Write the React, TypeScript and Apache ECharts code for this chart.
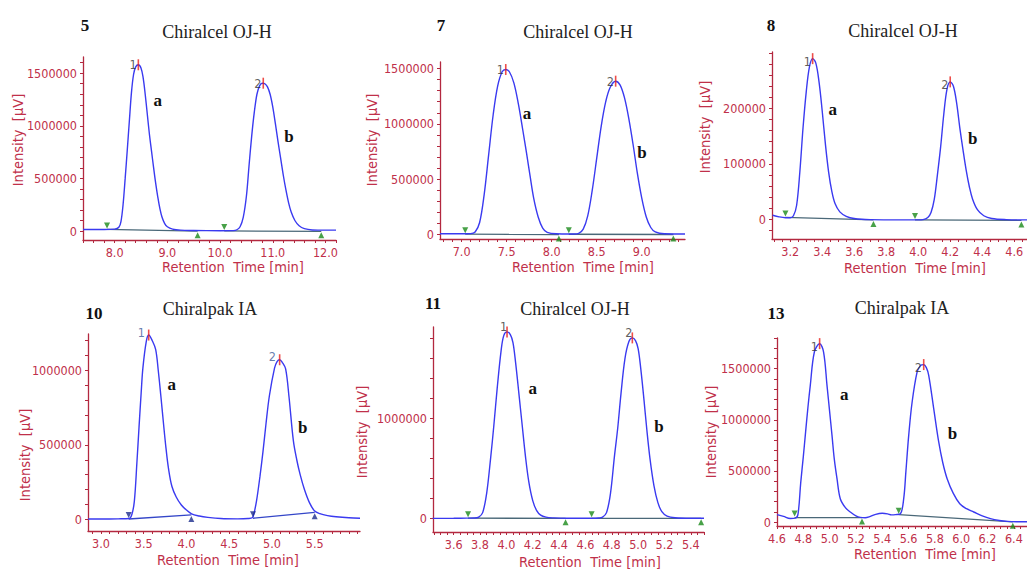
import React, { useEffect, useRef } from "react";
import * as echarts from "echarts";

type Pt = [number, number];

// ---------- Panel 5 (Chiralcel OJ-H) ----------
const trace5: Pt[] = [
  [7.4, 15000], [7.8, 15000], [8.0, 18000], [8.08, 35000], [8.12, 90000], [8.16, 250000], [8.2, 500000],
  [8.24, 770000], [8.28, 1050000], [8.32, 1320000], [8.36, 1490000], [8.4, 1560000], [8.45, 1580000],
  [8.5, 1550000], [8.54, 1460000], [8.58, 1300000], [8.62, 1110000], [8.66, 920000], [8.7, 760000],
  [8.74, 600000], [8.78, 450000], [8.82, 320000], [8.86, 210000], [8.9, 130000], [8.95, 70000],
  [9.0, 40000], [9.1, 18000], [9.25, 8000], [9.5, 5000], [10.0, 3000], [10.25, 4000], [10.32, 12000],
  [10.38, 40000], [10.44, 130000], [10.5, 330000], [10.55, 620000], [10.6, 900000], [10.65, 1130000],
  [10.7, 1300000], [10.75, 1380000], [10.8, 1405000], [10.85, 1400000], [10.9, 1370000], [10.95, 1300000],
  [11.0, 1180000], [11.05, 1020000], [11.1, 850000], [11.15, 690000], [11.2, 530000], [11.25, 390000],
  [11.3, 270000], [11.35, 180000], [11.42, 100000], [11.5, 50000], [11.6, 22000], [11.75, 10000],
  [12.0, 8000], [12.2, 8000],
];
const peaks5: Pt[] = [[8.45, 1580000], [10.82, 1405000]];
const starts5: Pt[] = [[7.856, 15000], [10.08, 1000]];
const ends5: Pt[] = [[9.575, -2000], [11.92, -3000]];
const letters5: [string, number, number][] = [["a", 8.82, 1245000], ["b", 11.31, 903000]];
const xTicks5 = [8, 9, 10, 11, 12];
const yTicks5 = [0, 500000, 1000000, 1500000];

// ---------- Panel 7 (Chiralcel OJ-H) ----------
const trace7: Pt[] = [
  [6.76, 8000], [7.0, 8000], [7.1, 10000], [7.15, 25000], [7.2, 110000], [7.25, 360000], [7.3, 720000],
  [7.35, 1080000], [7.4, 1340000], [7.45, 1470000], [7.49, 1490000], [7.53, 1470000], [7.58, 1370000],
  [7.63, 1180000], [7.68, 940000], [7.72, 740000], [7.76, 530000], [7.8, 330000], [7.85, 160000],
  [7.9, 60000], [7.95, 22000], [8.05, 8000], [8.2, 6000], [8.25, 6000], [8.3, 12000], [8.35, 50000],
  [8.4, 170000], [8.45, 400000], [8.5, 690000], [8.55, 980000], [8.6, 1200000], [8.65, 1330000],
  [8.71, 1385000], [8.76, 1350000], [8.81, 1230000], [8.86, 1030000], [8.91, 780000], [8.95, 560000],
  [9.0, 330000], [9.05, 160000], [9.1, 65000], [9.15, 25000], [9.25, 8000], [9.48, 6000],
];
const peaks7: Pt[] = [[7.49, 1490000], [8.71, 1385000]];
const starts7: Pt[] = [[7.04, 5000], [8.19, 4000]];
const ends7: Pt[] = [[8.08, 2000], [9.35, 2000]];
const letters7: [string, number, number][] = [["a", 7.726, 1097000], ["b", 9.003, 746000]];
const xTicks7 = [7.0, 7.5, 8.0, 8.5, 9.0];
const yTicks7 = [0, 500000, 1000000, 1500000];

// ---------- Panel 8 (Chiralcel OJ-H) ----------
const trace8: Pt[] = [
  [3.09, 7000], [3.13, 4000], [3.17, 2500], [3.2, 2500], [3.22, 6000], [3.24, 25000], [3.26, 85000],
  [3.28, 165000], [3.3, 230000], [3.32, 275000], [3.34, 290000], [3.36, 282000], [3.38, 248000],
  [3.4, 195000], [3.42, 135000], [3.44, 85000], [3.46, 50000], [3.48, 28000], [3.51, 13000],
  [3.55, 5000], [3.6, 1000], [3.7, -1000], [3.9, -1500], [4.0, -1500], [4.03, -1000], [4.06, 3000],
  [4.08, 12000], [4.1, 35000], [4.12, 80000], [4.14, 130000], [4.16, 190000], [4.18, 235000],
  [4.2, 248000], [4.22, 240000], [4.24, 210000], [4.26, 165000], [4.28, 125000], [4.3, 88000],
  [4.32, 58000], [4.34, 36000], [4.37, 17000], [4.41, 6000], [4.46, 1000], [4.55, -1000], [4.68, -1500],
];
const peaks8: Pt[] = [[3.34, 290000], [4.2, 248000]];
const starts8: Pt[] = [[3.17, 3000], [3.98, -1500]];
const ends8: Pt[] = [[3.72, -1500], [4.645, -2500]];
const letters8: [string, number, number][] = [["a", 3.466, 198800], ["b", 4.341, 146500]];
const xTicks8 = [3.2, 3.4, 3.6, 3.8, 4.0, 4.2, 4.4, 4.6];
const yTicks8 = [0, 100000, 200000];

// ---------- Panel 10 (Chiralpak IA) ----------
const trace10: Pt[] = [
  [2.85, 2000], [3.0, 2000], [3.2, 3000], [3.33, 5000], [3.36, 30000], [3.39, 120000], [3.42, 380000],
  [3.445, 620000], [3.47, 850000], [3.49, 1016000], [3.53, 1196000], [3.558, 1238000], [3.6, 1200000],
  [3.64, 1140000], [3.67, 1000000], [3.7, 830000], [3.73, 650000], [3.76, 480000], [3.79, 340000],
  [3.83, 220000], [3.88, 150000], [3.94, 96000], [4.0, 62000], [4.06, 36000], [4.15, 22000],
  [4.25, 13000], [4.4, 5000], [4.6, 3000], [4.72, 5000], [4.77, 10000], [4.79, 40000], [4.82, 125000],
  [4.86, 290000], [4.895, 455000], [4.93, 640000], [4.97, 830000], [5.03, 1016000], [5.06, 1060000],
  [5.09, 1072000], [5.12, 1055000], [5.16, 1010000], [5.2, 820000], [5.25, 530000], [5.29, 400000],
  [5.33, 300000], [5.38, 200000], [5.44, 110000], [5.5, 55000], [5.56, 38000], [5.65, 25000],
  [5.75, 17000], [5.9, 10000], [6.03, 7000],
];
const peaks10: Pt[] = [[3.558, 1238000], [5.09, 1072000]];
const starts10: Pt[] = [[3.324, 2000], [4.778, 7000]];
const ends10: Pt[] = [[4.057, 29000], [5.5, 47000]];
const letters10: [string, number, number][] = [["a", 3.827, 903700], ["b", 5.359, 614000]];
const xTicks10 = [3.0, 3.5, 4.0, 4.5, 5.0, 5.5];
const yTicks10 = [0, 500000, 1000000];

// ---------- Panel 11 (Chiralcel OJ-H) ----------
const trace11: Pt[] = [
  [3.44, 2000], [3.6, 3000], [3.7, 5000], [3.76, 6000], [3.79, 15000], [3.82, 60000], [3.85, 250000],
  [3.88, 600000], [3.905, 933000], [3.93, 1300000], [3.96, 1680000], [3.98, 1830000], [4.005, 1867000],
  [4.03, 1840000], [4.05, 1760000], [4.07, 1560000], [4.095, 1250000], [4.12, 933000], [4.145, 620000],
  [4.17, 370000], [4.2, 180000], [4.23, 80000], [4.26, 35000], [4.3, 15000], [4.36, 7000], [4.45, 3000],
  [4.6, 3000], [4.65, 3000], [4.7, 6000], [4.73, 15000], [4.76, 60000], [4.79, 250000], [4.82, 620000],
  [4.845, 903000], [4.87, 1250000], [4.9, 1600000], [4.93, 1770000], [4.956, 1807000], [4.98, 1780000],
  [5.0, 1700000], [5.02, 1500000], [5.045, 1180000], [5.065, 903000], [5.09, 600000], [5.12, 330000],
  [5.15, 160000], [5.18, 70000], [5.22, 25000], [5.28, 8000], [5.4, 3000], [5.5, 3000],
];
const peaks11: Pt[] = [[4.005, 1867000], [4.956, 1807000]];
const starts11: Pt[] = [[3.709, 4000], [4.647, 3000]];
const ends11: Pt[] = [[4.449, 3000], [5.478, 3000]];
const letters11: [string, number, number][] = [["a", 4.201, 1303000], ["b", 5.159, 923000]];
const xTicks11 = [3.6, 3.8, 4.0, 4.2, 4.4, 4.6, 4.8, 5.0, 5.2, 5.4];
const yTicks11 = [0, 1000000];

// ---------- Panel 13 (Chiralpak IA) ----------
const trace13: Pt[] = [
  [4.6, 72000], [4.65, 55000], [4.7, 35000], [4.74, 38000], [4.76, 80000], [4.78, 380000], [4.8, 640000],
  [4.815, 848000], [4.835, 1120000], [4.853, 1337000], [4.884, 1663000], [4.924, 1745000],
  [4.954, 1663000], [4.98, 1337000], [5.0, 1080000], [5.018, 848000], [5.035, 620000], [5.056, 424000],
  [5.081, 228000], [5.12, 140000], [5.157, 98000], [5.2, 60000], [5.233, 45000], [5.27, 42000],
  [5.3, 50000], [5.35, 75000], [5.4, 85000], [5.44, 80000], [5.47, 70000], [5.5, 72000], [5.538, 80000],
  [5.563, 228000], [5.58, 500000], [5.601, 848000], [5.627, 1174000], [5.665, 1468000], [5.69, 1530000],
  [5.715, 1540000], [5.735, 1510000], [5.753, 1435000], [5.791, 1109000], [5.829, 783000], [5.86, 580000],
  [5.893, 424000], [5.94, 280000], [5.989, 179000], [6.04, 130000], [6.095, 98000], [6.16, 60000],
  [6.222, 33000], [6.29, 15000], [6.349, 6500], [6.42, 3000], [6.5, 3000],
];
const peaks13: Pt[] = [[4.924, 1745000], [5.715, 1540000]];
const starts13: Pt[] = [[4.734, 43000], [5.525, 72000]];
const ends13: Pt[] = [[5.246, 43000], [6.392, 2000]];
const letters13: [string, number, number][] = [["a", 5.112, 1249500], ["b", 5.933, 868000]];
const xTicks13 = [4.6, 4.8, 5.0, 5.2, 5.4, 5.6, 5.8, 6.0, 6.2, 6.4];
const yTicks13 = [0, 500000, 1000000, 1500000];

// ---------- styles ----------
const RED = "#c0304a";
const AXIS_RED = "#b3283f";
const BLUE = "#3a3af0";
const GREEN = "#1a8a1a";
const SLATE = "#4a6878";
const SANS = '"DejaVu Sans Condensed", "DejaVu Sans", sans-serif';
const SERIF = '"Liberation Serif", "DejaVu Serif", serif';

function steps(from: number, to: number, step: number): number[] {
  const out: number[] = [];
  const n = Math.round((to - from) / step);
  for (let i = 0; i <= n; i++) out.push(+(from + i * step).toFixed(6));
  return out;
}

type Panel = {
  number: string;
  column: string;
  trace: Pt[];
  peaks: Pt[];
  starts: Pt[];
  ends: Pt[];
  letters: [string, number, number][];
  xLabels: number[];
  yLabels: number[];
  grid: { left: number; top: number; width: number; height: number };
  xRange: [number, number];
  yRange: [number, number];
  xMinor: [number, number, number];
  yMinor: [number, number, number];
  numberPos: [number, number];
  titlePos: [number, number];
  xNamePos: [number, number];
  yNamePos: [number, number];
  peakColor: string;
  markColor: string;
  baseColor: string;
  peakLabelOffset: [number, number];
};

const panels: Panel[] = [
  {
    number: "5", column: "Chiralcel OJ-H", trace: trace5, peaks: peaks5, starts: starts5, ends: ends5,
    letters: letters5, xLabels: xTicks5, yLabels: yTicks5,
    grid: { left: 83, top: 57, width: 253, height: 183 }, xRange: [7.4, 12.2], yRange: [-85500, 1654000],
    xMinor: [7.4, 12.2, 0.2], yMinor: [0, 1600000, 100000],
    numberPos: [85, 25], titlePos: [217, 32], xNamePos: [233, 267], yNamePos: [18, 140],
    peakColor: "#333", markColor: GREEN, baseColor: SLATE, peakLabelOffset: [0, 0],
  },
  {
    number: "7", column: "Chiralcel OJ-H", trace: trace7, peaks: peaks7, starts: starts7, ends: ends7,
    letters: letters7, xLabels: xTicks7, yLabels: yTicks7,
    grid: { left: 440, top: 62, width: 245, height: 177 }, xRange: [6.76, 9.48], yRange: [-38700, 1558000],
    xMinor: [6.8, 9.4, 0.1], yMinor: [0, 1500000, 100000],
    numberPos: [441, 25], titlePos: [578, 32], xNamePos: [583, 267], yNamePos: [372, 140],
    peakColor: "#333", markColor: GREEN, baseColor: SLATE, peakLabelOffset: [0, 0],
  },
  {
    number: "8", column: "Chiralcel OJ-H", trace: trace8, peaks: peaks8, starts: starts8, ends: ends8,
    letters: letters8, xLabels: xTicks8, yLabels: yTicks8,
    grid: { left: 772, top: 52, width: 255, height: 187 }, xRange: [3.086, 4.68], yRange: [-36000, 302000],
    xMinor: [3.1, 4.65, 0.05], yMinor: [-20000, 300000, 20000],
    numberPos: [771, 25], titlePos: [903, 31], xNamePos: [915, 268], yNamePos: [705, 127],
    peakColor: "#333", markColor: GREEN, baseColor: SLATE, peakLabelOffset: [0, 3],
  },
  {
    number: "10", column: "Chiralpak IA", trace: trace10, peaks: peaks10, starts: starts10, ends: ends10,
    letters: letters10, xLabels: xTicks10, yLabels: yTicks10,
    grid: { left: 88, top: 334, width: 272, height: 197 }, xRange: [2.848, 6.03], yRange: [-78700, 1245000],
    xMinor: [2.9, 6.0, 0.1], yMinor: [0, 1200000, 100000],
    numberPos: [94, 313], titlePos: [210, 309], xNamePos: [228, 560], yNamePos: [25, 455],
    peakColor: "#3d5a99", markColor: "#1c2c8c", baseColor: "#3446c8", peakLabelOffset: [-2, -3],
  },
  {
    number: "11", column: "Chiralcel OJ-H", trace: trace11, peaks: peaks11, starts: starts11, ends: ends11,
    letters: letters11, xLabels: xTicks11, yLabels: yTicks11,
    grid: { left: 433, top: 327, width: 271, height: 205 }, xRange: [3.443, 5.5], yRange: [-134000, 1916000],
    xMinor: [3.45, 5.5, 0.05], yMinor: [0, 1800000, 200000],
    numberPos: [433, 303], titlePos: [575, 309], xNamePos: [590, 562], yNamePos: [362, 432],
    peakColor: "#333", markColor: GREEN, baseColor: SLATE, peakLabelOffset: [2, -5],
  },
  {
    number: "13", column: "Chiralpak IA", trace: trace13, peaks: peaks13, starts: starts13, ends: ends13,
    letters: letters13, xLabels: xTicks13, yLabels: yTicks13,
    grid: { left: 777, top: 338, width: 250, height: 188 }, xRange: [4.6, 6.5], yRange: [-39000, 1800000],
    xMinor: [4.6, 6.5, 0.05], yMinor: [0, 1800000, 100000],
    numberPos: [776, 313], titlePos: [902, 308], xNamePos: [925, 554], yNamePos: [711, 432],
    peakColor: "#333", markColor: GREEN, baseColor: SLATE, peakLabelOffset: [0, 3],
  },
];

function buildOption() {
  const grid = panels.map((p) => ({ ...p.grid, containLabel: false }));
  const xAxis = panels.map((p, i) => ({
    type: "value",
    gridIndex: i,
    min: p.xRange[0],
    max: p.xRange[1],
    position: "bottom",
    axisLine: { show: true, onZero: false, lineStyle: { color: AXIS_RED, width: 1.3 } },
    axisTick: { show: true, length: 3, customValues: steps(...p.xMinor), lineStyle: { color: AXIS_RED, width: 1 } },
    axisLabel: {
      show: true,
      customValues: p.xLabels,
      formatter: (v: number) => v.toFixed(1),
      color: RED,
      fontSize: 12.5,
      fontFamily: SANS,
      margin: 6,
    },
    splitLine: { show: false },
  }));
  const yAxis = panels.map((p, i) => ({
    type: "value",
    gridIndex: i,
    min: p.yRange[0],
    max: p.yRange[1],
    position: "left",
    axisLine: { show: true, onZero: false, lineStyle: { color: AXIS_RED, width: 1.3 } },
    axisTick: { show: true, length: 3, customValues: steps(...p.yMinor), lineStyle: { color: AXIS_RED, width: 1 } },
    axisLabel: {
      show: true,
      customValues: p.yLabels,
      formatter: (v: number) => String(Math.round(v)),
      color: RED,
      fontSize: 12.5,
      fontFamily: SANS,
      margin: 6,
    },
    splitLine: { show: false },
  }));

  const series: any[] = [];
  panels.forEach((p, i) => {
    const axes = { xAxisIndex: i, yAxisIndex: i };
    p.starts.forEach((s, k) => {
      series.push({
        type: "line", ...axes, data: [s, p.ends[k]], showSymbol: false, silent: true, z: 2,
        lineStyle: { color: p.baseColor, width: 1.3 },
      });
    });
    series.push({
      type: "line", ...axes, data: p.trace, showSymbol: false, smooth: 0.35, z: 3,
      lineStyle: { color: BLUE, width: 1.4 },
    });
    series.push({
      type: "scatter", ...axes, data: p.starts, symbol: "triangle", symbolRotate: 180, symbolSize: 6,
      symbolOffset: [0, -4], itemStyle: { color: p.markColor }, z: 4,
    });
    series.push({
      type: "scatter", ...axes, data: p.ends, symbol: "triangle", symbolSize: 6,
      symbolOffset: [0, 4], itemStyle: { color: p.markColor }, z: 4,
    });
    series.push({
      type: "scatter", ...axes, data: p.peaks, symbol: "rect", symbolSize: [1.6, 11], z: 5,
      itemStyle: { color: "#e8201c" },
      label: {
        show: true, position: "left", distance: 1, offset: p.peakLabelOffset,
        formatter: (q: any) => String(q.dataIndex + 1),
        color: p.peakColor, fontSize: 12.5, fontFamily: SANS,
      },
    });
    series.push({
      type: "scatter", ...axes, symbolSize: 2, itemStyle: { color: "rgba(0,0,0,0)" }, z: 6,
      data: p.letters.map((l) => ({ name: l[0], value: [l[1], l[2]] })),
      label: {
        show: true, position: "inside", formatter: "{b}", color: "#111", opacity: 1,
        fontSize: 17, fontWeight: "bold", fontFamily: SERIF,
      },
    });
  });

  const graphic: any[] = [];
  panels.forEach((p) => {
    graphic.push({
      type: "text", x: p.numberPos[0], y: p.numberPos[1],
      style: { text: p.number, font: `bold 17px ${SERIF}`, fill: "#111", textAlign: "center", textVerticalAlign: "middle" },
    });
    graphic.push({
      type: "text", x: p.titlePos[0], y: p.titlePos[1],
      style: { text: p.column, font: `18px ${SERIF}`, fill: "#222", textAlign: "center", textVerticalAlign: "middle" },
    });
    graphic.push({
      type: "text", x: p.xNamePos[0], y: p.xNamePos[1],
      style: { text: "Retention  Time [min]", font: `14.5px ${SANS}`, fill: RED, textAlign: "center", textVerticalAlign: "middle" },
    });
    graphic.push({
      type: "text", x: p.yNamePos[0], y: p.yNamePos[1], rotation: Math.PI / 2,
      style: { text: "Intensity  [µV]", font: `14.5px ${SANS}`, fill: RED, textAlign: "center", textVerticalAlign: "middle" },
    });
  });

  return {
    animation: false,
    backgroundColor: "#ffffff",
    grid,
    xAxis,
    yAxis,
    series,
    graphic,
  };
}

export default function App() {
  const ref = useRef<HTMLDivElement>(null);
  useEffect(() => {
    if (!ref.current) return;
    const chart = echarts.init(ref.current, undefined, { renderer: "svg" });
    chart.setOption(buildOption() as any);
    return () => chart.dispose();
  }, []);
  return (
    <div
      ref={ref}
      style={{ position: "fixed", left: 0, top: 0, width: 1027, height: 570, background: "#fff" }}
    />
  );
}
